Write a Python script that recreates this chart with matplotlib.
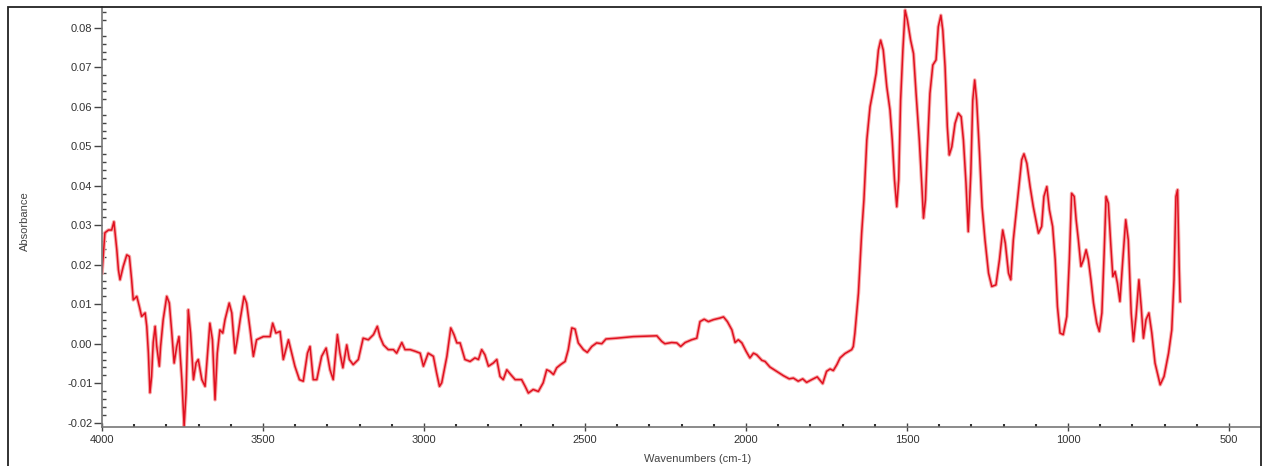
import numpy as np
import matplotlib
matplotlib.use("Agg")
import matplotlib.pyplot as plt
from matplotlib.ticker import MultipleLocator, FormatStrFormatter
from matplotlib.patches import Rectangle

plt.rcParams['font.family'] = ['Liberation Sans', 'DejaVu Sans']
plt.rcParams['axes.unicode_minus'] = False

# FTIR spectrum (wavenumber cm-1, absorbance)
wavenumber = [
    4000, 3991, 3980, 3970, 3963, 3954, 3949, 3944, 3934, 3923, 3915, 3908, 3903, 3892,
    3884, 3877, 3866, 3861, 3856, 3851, 3846, 3841, 3835, 3830, 3822, 3818, 3810, 3799,
    3791, 3784, 3776, 3768, 3761, 3752, 3745, 3739, 3732, 3725, 3716, 3708, 3701, 3690,
    3680, 3673, 3665, 3657, 3649, 3642, 3634, 3625, 3618, 3605, 3597, 3587, 3580, 3571,
    3559, 3551, 3540, 3530, 3520, 3499, 3478, 3470, 3460, 3447, 3437, 3421, 3411, 3401,
    3387, 3375, 3362, 3354, 3344, 3333, 3318, 3304, 3292, 3282, 3269, 3261, 3252, 3240,
    3232, 3220, 3204, 3189, 3173, 3157, 3145, 3137, 3126, 3111, 3095, 3085, 3069, 3059,
    3043, 3028, 3012, 3002, 2987, 2971, 2961, 2952, 2945, 2929, 2917, 2907, 2898, 2888,
    2873, 2857, 2842, 2831, 2821, 2811, 2800, 2785, 2774, 2764, 2754, 2743, 2731, 2717,
    2697, 2686, 2676, 2661, 2645, 2630, 2619, 2609, 2598, 2588, 2576, 2562, 2552, 2541,
    2531, 2521, 2505, 2493, 2479, 2464, 2448, 2435, 2402, 2350, 2277, 2262, 2252, 2231,
    2215, 2203, 2189, 2169, 2153, 2143, 2130, 2117, 2101, 2081, 2070, 2058, 2044, 2034,
    2024, 2013, 2000, 1988, 1977, 1967, 1951, 1941, 1926, 1905, 1884, 1866, 1853, 1838,
    1824, 1812, 1796, 1779, 1762, 1750, 1739, 1729, 1718, 1708, 1693, 1672, 1667, 1662,
    1651, 1641, 1634, 1625, 1615, 1605, 1596, 1589, 1582, 1574, 1563, 1553, 1546, 1539,
    1532, 1526, 1520, 1513, 1506, 1499, 1489, 1480, 1472, 1462, 1454, 1449, 1443, 1437,
    1429, 1420, 1410, 1403, 1395, 1389, 1382, 1375, 1369, 1361, 1351, 1341, 1332, 1325,
    1317, 1310, 1302, 1296, 1290, 1284, 1275, 1267, 1258, 1247, 1237, 1224, 1213, 1203,
    1195, 1185, 1178, 1170, 1157, 1144, 1137, 1128, 1118, 1108, 1092, 1082, 1075, 1066,
    1058, 1048, 1040, 1033, 1025, 1015, 1004, 996, 989, 981, 975, 968, 960, 952,
    944, 937, 929, 921, 911, 903, 895, 888, 882, 875, 867, 861, 854, 847,
    839, 830, 821, 813, 804, 797, 789, 780, 773, 766, 758, 749, 740, 730,
    714, 702, 688, 678, 671, 665, 660, 655, 652,
]
absorbance = [
    0.0179, 0.0281, 0.0288, 0.0288, 0.0309, 0.0238, 0.0187, 0.0162, 0.0196, 0.0225, 0.0221, 0.0162, 0.0111, 0.0120,
    0.0094, 0.0069, 0.0078, 0.0044, -0.0023, -0.0124, -0.0083, 0.0003, 0.0044, -0.0007, -0.0057, -0.0007, 0.0061, 0.0120,
    0.0103, 0.0035, -0.0049, -0.0007, 0.0018, -0.0091, -0.0209, -0.0125, 0.0086, 0.0027, -0.0091, -0.0049, -0.0040, -0.0091,
    -0.0108, -0.0032, 0.0052, 0.0010, -0.0142, -0.0024, 0.0035, 0.0027, 0.0061, 0.0103, 0.0078, -0.0024, 0.0010, 0.0061,
    0.0120, 0.0103, 0.0035, -0.0032, 0.0010, 0.0018, 0.0018, 0.0052, 0.0027, 0.0031, -0.0040, 0.0010, -0.0024, -0.0057,
    -0.0091, -0.0095, -0.0024, -0.0007, -0.0091, -0.0091, -0.0032, -0.0011, -0.0066, -0.0091, 0.0023, -0.0024, -0.0061, -0.0003,
    -0.0040, -0.0053, -0.0040, 0.0014, 0.0010, 0.0023, 0.0044, 0.0018, -0.0003, -0.0015, -0.0015, -0.0024, 0.0003, -0.0015,
    -0.0015, -0.0019, -0.0024, -0.0057, -0.0024, -0.0032, -0.0074, -0.0108, -0.0099, -0.0032, 0.0040, 0.0023, 0.0002, 0.0002,
    -0.0040, -0.0045, -0.0036, -0.0040, -0.0015, -0.0028, -0.0057, -0.0049, -0.0040, -0.0083, -0.0091, -0.0066, -0.0078, -0.0091,
    -0.0091, -0.0108, -0.0125, -0.0116, -0.0121, -0.0099, -0.0066, -0.0070, -0.0078, -0.0061, -0.0053, -0.0045, -0.0015, 0.0040,
    0.0037, 0.0002, -0.0015, -0.0022, -0.0007, 0.0002, 0.0000, 0.0012, 0.0014, 0.0018, 0.0020, 0.0006, 0.0000, 0.0003,
    0.0002, -0.0007, 0.0003, 0.0010, 0.0014, 0.0056, 0.0062, 0.0056, 0.0061, 0.0065, 0.0068, 0.0056, 0.0035, 0.0003,
    0.0010, 0.0002, -0.0019, -0.0036, -0.0024, -0.0028, -0.0042, -0.0045, -0.0059, -0.0070, -0.0081, -0.0089, -0.0087, -0.0095,
    -0.0089, -0.0098, -0.0091, -0.0084, -0.0101, -0.0070, -0.0064, -0.0068, -0.0053, -0.0036, -0.0025, -0.0015, -0.0007, 0.0027,
    0.0128, 0.0280, 0.0364, 0.0516, 0.0600, 0.0643, 0.0685, 0.0744, 0.0769, 0.0744, 0.0651, 0.0592, 0.0516, 0.0415,
    0.0347, 0.0415, 0.0617, 0.0744, 0.0845, 0.0820, 0.0769, 0.0735, 0.0634, 0.0516, 0.0398, 0.0318, 0.0364, 0.0491,
    0.0634, 0.0706, 0.0719, 0.0803, 0.0832, 0.0794, 0.0702, 0.0550, 0.0478, 0.0499, 0.0558, 0.0584, 0.0575, 0.0516,
    0.0407, 0.0284, 0.0432, 0.0617, 0.0668, 0.0617, 0.0482, 0.0347, 0.0263, 0.0179, 0.0145, 0.0149, 0.0213, 0.0288,
    0.0255, 0.0179, 0.0162, 0.0263, 0.0364, 0.0466, 0.0481, 0.0457, 0.0398, 0.0347, 0.0280, 0.0297, 0.0373, 0.0398,
    0.0339, 0.0297, 0.0213, 0.0094, 0.0027, 0.0023, 0.0069, 0.0213, 0.0381, 0.0373, 0.0314, 0.0263, 0.0196, 0.0213,
    0.0238, 0.0213, 0.0162, 0.0103, 0.0052, 0.0031, 0.0078, 0.0229, 0.0373, 0.0356, 0.0246, 0.0170, 0.0183, 0.0154,
    0.0107, 0.0213, 0.0314, 0.0263, 0.0078, 0.0006, 0.0069, 0.0162, 0.0094, 0.0014, 0.0061, 0.0078, 0.0027, -0.0049,
    -0.0104, -0.0083, -0.0024, 0.0035, 0.0162, 0.0373, 0.0390, 0.0196, 0.0107,
]

xticks = [4000, 3500, 3000, 2500, 2000, 1500, 1000, 500]

fig = plt.figure(figsize=(12.68, 4.66), dpi=100)
ax = fig.add_axes([102 / 1268, 39 / 466, 1158 / 1268, 420 / 466])

# soft pink halo plus the red trace, like the blurry original
ax.plot(wavenumber, absorbance, color='#f7a8a8', lw=2.6, solid_joinstyle='round')
ax.plot(wavenumber, absorbance, color='#e01020', lw=1.1)

ax.set_xlim(4000, 404)
ax.set_ylim(-0.0211, 0.0853)
ax.set_xticks(xticks)
ax.xaxis.set_minor_locator(MultipleLocator(100))
ax.yaxis.set_major_locator(MultipleLocator(0.01))
ax.yaxis.set_minor_locator(MultipleLocator(0.002))
ax.yaxis.set_major_formatter(FormatStrFormatter('%.2f'))

ax.tick_params(axis='both', which='major', labelsize=8, colors='#444444', labelcolor='#333333')
ax.tick_params(axis='x', which='major', direction='inout', length=6, width=1, pad=3)
ax.tick_params(axis='x', which='minor', direction='in', length=2, width=1.5, colors='#333333')
ax.tick_params(axis='y', which='major', direction='out', length=6, width=1, pad=1)
ax.tick_params(axis='y', which='minor', direction='in', length=3, width=1, colors='#444444')

for s in ['top', 'right']:
    ax.spines[s].set_visible(False)
for s in ['left', 'bottom']:
    ax.spines[s].set_color('#777777')
    ax.spines[s].set_linewidth(1.2)

ax.set_xlabel('Wavenumbers (cm-1)', fontsize=8, color='#444444', labelpad=2)
ax.xaxis.set_label_coords(0.514, -0.065)
ax.set_ylabel('Absorbance', fontsize=8, color='#444444')
ax.yaxis.set_label_coords(-0.062, 0.49)

# outer frame around the plot
fig.patches.append(Rectangle((8 / 1268, -0.05), 1253 / 1268, 0.05 + 459 / 466,
                             transform=fig.transFigure, fill=False,
                             edgecolor='#222222', lw=1.3))

fig.savefig('out.png', dpi=100)
